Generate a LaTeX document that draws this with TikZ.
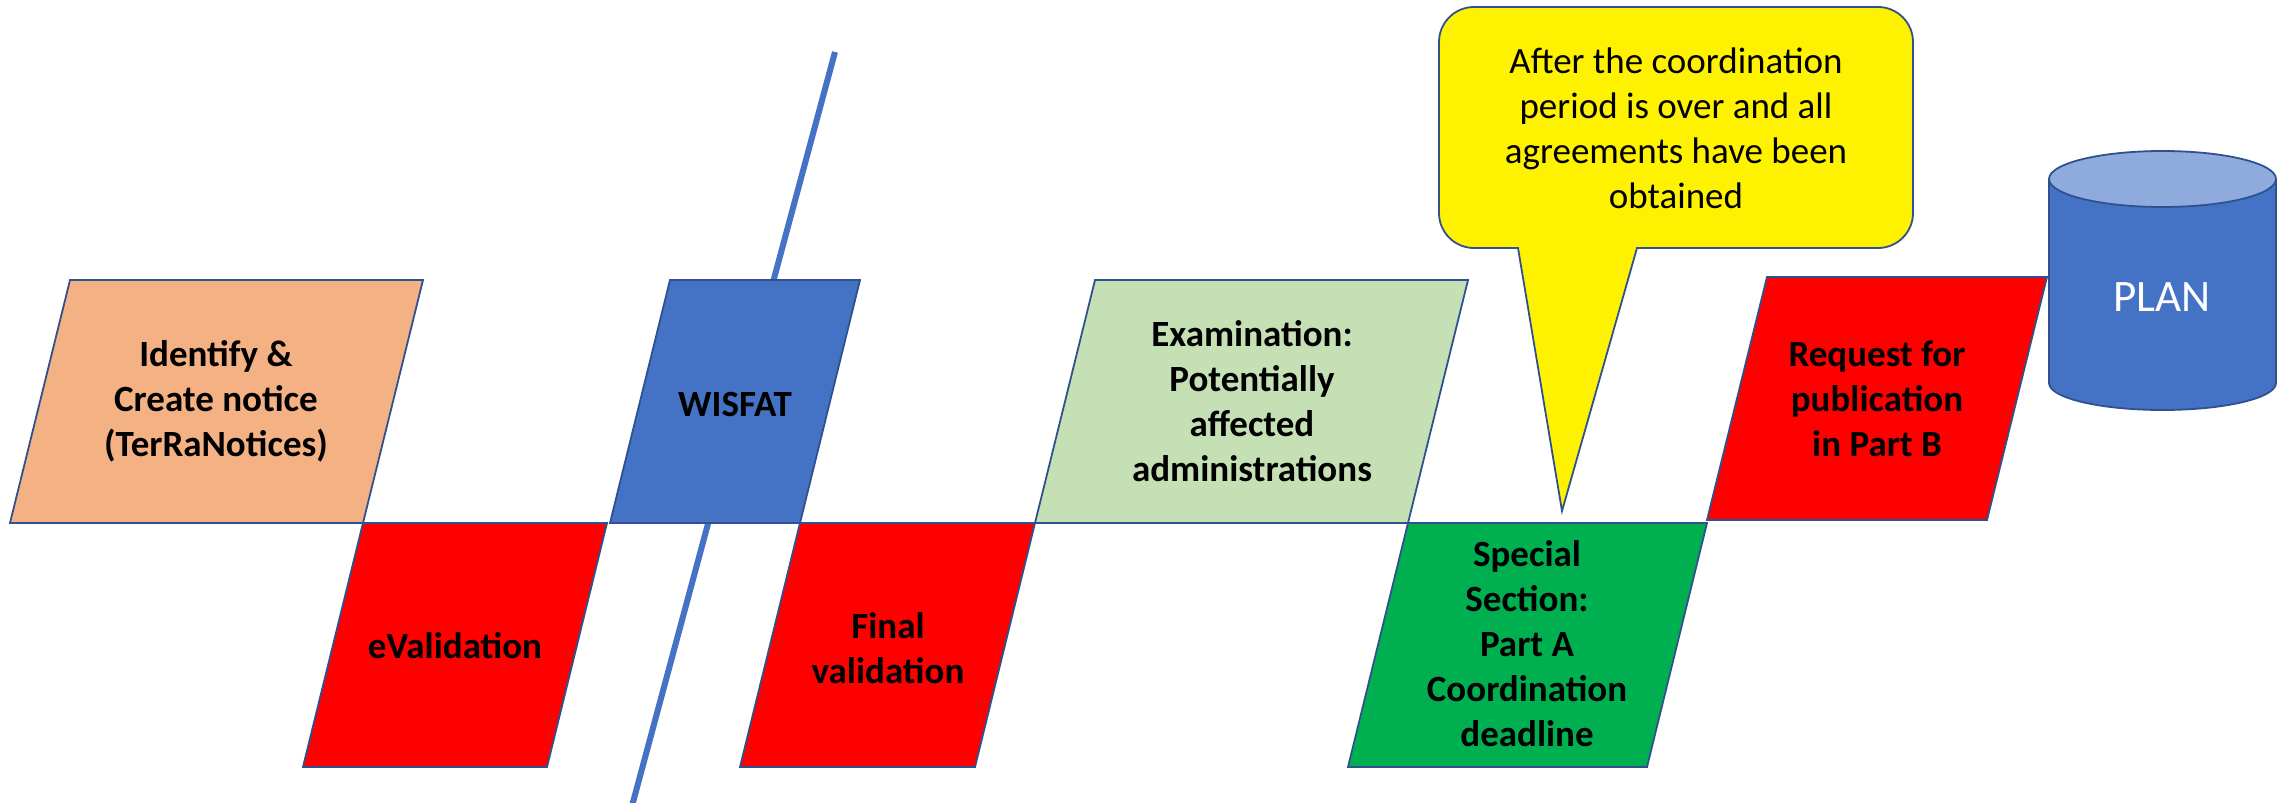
\documentclass[tikz,border=0pt]{standalone}
\usepackage{fontspec}
\setmainfont{Carlito}
\definecolor{edgeblue}{HTML}{2F528F}
\definecolor{peach}{HTML}{F4B183}
\definecolor{wisblue}{HTML}{4472C4}
\definecolor{lidblue}{HTML}{8FAADC}
\definecolor{palegreen}{HTML}{C5E0B4}
\definecolor{deepgreen}{HTML}{00B050}

\begin{document}
\begin{tikzpicture}[x=0.5pt, y=-0.5pt,
    plate/.style={draw=edgeblue, line width=0.9pt},
    lbl/.style={font=\fontsize{18.5}{22.5}\selectfont\bfseries, align=center}]
    \useasboundingbox (0,0) rectangle (2287,803);

    % Cut line behind WISFAT
    \draw[wisblue, line width=3pt] (835,52) -- (632,806);

    % Upper row
    \filldraw[plate, fill=peach] (70,280) -- (423,280) -- (363,523) -- (10,523) -- cycle;
    \node[lbl] (identify) at (216,401) {Identify \&\\Create notice\\(TerRaNotices)};

    \filldraw[plate, fill=wisblue] (670,280) -- (860,280) -- (800,523) -- (610,523) -- cycle;
    \node[lbl] (wisfat) at (735,404) {WISFAT};

    \filldraw[plate, fill=palegreen] (1095,280) -- (1468,280) -- (1408,523) -- (1035,523) -- cycle;
    \node[lbl] (exam) at (1252,401) {Examination:\\Potentially\\affected\\administrations};

    \filldraw[plate, fill=red] (1767,277) -- (2047,277) -- (1987,520) -- (1707,520) -- cycle;
    \node[lbl] (request) at (1877,399) {Request for\\publication\\in Part B};

    % Lower row
    \filldraw[plate, fill=red] (363,523) -- (607,523) -- (547,767) -- (303,767) -- cycle;
    \node[lbl] (evalid) at (455,646) {eValidation};

    \filldraw[plate, fill=red] (800,523) -- (1035,523) -- (975,767) -- (740,767) -- cycle;
    \node[lbl] (finalvalid) at (888,648) {Final\\validation};

    \filldraw[plate, fill=deepgreen] (1408,523) -- (1707,523) -- (1647,767) -- (1348,767) -- cycle;
    \node[lbl] (special) at (1527,644) {Special\\Section:\\Part A\\Coordination\\deadline};

    % PLAN database
    \filldraw[plate, fill=wisblue] (2049,179) -- (2049,383)
        arc[start angle=180, end angle=360, x radius=56.75pt, y radius=13.5pt] -- (2276,179) -- cycle;
    \filldraw[plate, fill=lidblue] (2162.5,179) ellipse[x radius=56.75pt, y radius=14pt];
    \node[font=\fontsize{22.5}{27}\selectfont, text=white] (plan) at (2162,297) {PLAN};

    % Speech bubble
    \filldraw[plate, fill=yellow] (1518,248) -- (1474,248)
        arc[start angle=270, end angle=180, radius=17.5pt] -- (1439,42)
        arc[start angle=180, end angle=90, radius=17.5pt] -- (1878,7)
        arc[start angle=90, end angle=0, radius=17.5pt] -- (1913,213)
        arc[start angle=0, end angle=-90, radius=17.5pt] -- (1637,248)
        -- (1562,511) -- cycle;
    \node[font=\fontsize{18.5}{22.5}\selectfont, align=center] (bubble) at (1676,128)
        {After the coordination\\period is over and all\\agreements have been\\obtained};
\end{tikzpicture}
\end{document}
